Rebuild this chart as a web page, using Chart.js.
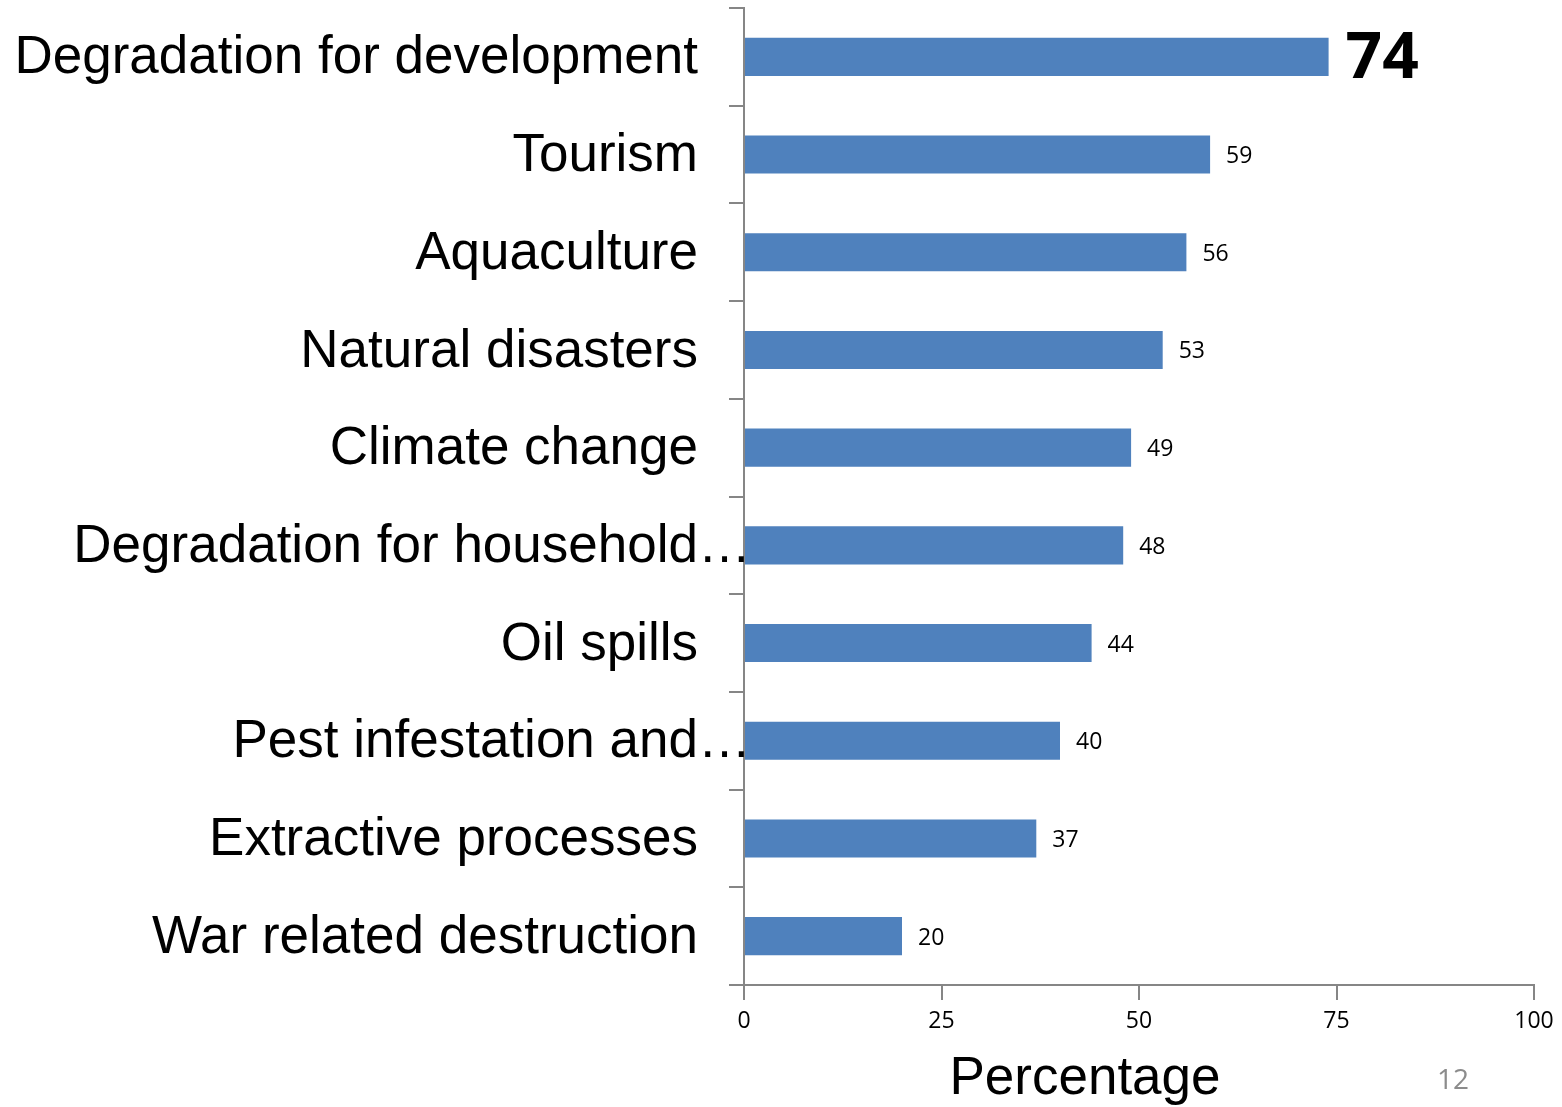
<!DOCTYPE html>
<html>
<head>
<meta charset="utf-8">
<script src="https://cdn.jsdelivr.net/npm/chart.js@4/dist/chart.umd.min.js"></script>
<style>
    html, body { margin: 0; padding: 0; background: #fff; }
    #wrap { position: relative; width: 1562px; height: 1107px; }
</style>
</head>
<body>
<div id="wrap"><canvas id="threatChart" width="1562" height="1107"></canvas></div>
<script>
// Threats ranked by share of respondents
const categories = [
    'Degradation for development',
    'Tourism',
    'Aquaculture',
    'Natural disasters',
    'Climate change',
    'Degradation for household\u2026',
    'Oil spills',
    'Pest infestation and\u2026',
    'Extractive processes',
    'War related destruction'
];
const percentages = [74, 59, 56, 53, 49, 48, 44, 40, 37, 20];
const xTicks = [0, 25, 50, 75, 100];

const ELLIPSIS = '\u2026';
const axisGrey = '#868686';
const labelFont = "'Liberation Sans', Arial, sans-serif";
const numberFont = "'Open Sans', sans-serif";

// Draws the value next to each bar, the top one large and bold
const valueLabels = {
    id: 'valueLabels',
    afterDatasetsDraw(chart) {
        const ctx = chart.ctx;
        const meta = chart.getDatasetMeta(0);
        ctx.save();
        ctx.fillStyle = '#000';
        ctx.textBaseline = 'middle';
        ctx.textAlign = 'left';
        meta.data.forEach((bar, i) => {
            if (i === 0) {
                ctx.font = 'bold 64px ' + numberFont;
                ctx.fillText(String(percentages[i]), bar.x + 17, bar.y + 3);
            } else {
                ctx.font = '23px ' + numberFont;
                ctx.fillText(String(percentages[i]), bar.x + 16, bar.y + 2);
            }
        });
        ctx.restore();
    }
};

// Truncated category names: the ellipsis runs past the label column
const labelEllipsis = {
    id: 'labelEllipsis',
    afterDraw(chart) {
        const y = chart.scales.y;
        const ctx = chart.ctx;
        const x = y.right - y.options.grid.tickLength - y.options.ticks.padding;
        ctx.save();
        ctx.font = '53px ' + labelFont;
        ctx.fillStyle = '#000';
        ctx.textAlign = 'left';
        ctx.textBaseline = 'middle';
        categories.forEach((c, i) => {
            if (c.endsWith(ELLIPSIS)) {
                ctx.fillText(ELLIPSIS, x, y.getPixelForTick(i) + 2);
            }
        });
        ctx.restore();
    }
};

// Axis caption and page number
const captions = {
    id: 'captions',
    afterDraw(chart) {
        const ctx = chart.ctx;
        const area = chart.chartArea;
        ctx.save();
        ctx.textAlign = 'center';
        ctx.textBaseline = 'middle';
        ctx.fillStyle = '#000';
        ctx.font = '53px ' + labelFont;
        ctx.fillText('Percentage', (area.left + area.right) / 2 - 54, 1079);
        ctx.fillStyle = '#8c8c8c';
        ctx.font = '28px ' + numberFont;
        ctx.fillText('12', 1453, 1081);
        ctx.restore();
    }
};

const ctx = document.getElementById('threatChart').getContext('2d');
new Chart(ctx, {
    type: 'bar',
    data: {
        labels: categories,
        datasets: [{
            data: percentages,
            backgroundColor: '#4f81bd',
            borderWidth: 0,
            barPercentage: 0.39,
            categoryPercentage: 1
        }]
    },
    options: {
        indexAxis: 'y',
        responsive: false,
        animation: false,
        layout: { padding: { top: 8, right: 28, left: 0, bottom: 0 } },
        plugins: {
            legend: { display: false },
            tooltip: { enabled: false }
        },
        scales: {
            x: {
                min: 0,
                max: 100,
                afterBuildTicks: (scale) => {
                    scale.ticks = xTicks.map(v => ({ value: v }));
                },
                afterFit: (scale) => { scale.height = 122; },
                border: { color: axisGrey, width: 2 },
                grid: { drawOnChartArea: false, color: axisGrey, lineWidth: 2, tickLength: 15 },
                ticks: {
                    color: '#000',
                    padding: 8,
                    maxRotation: 0,
                    font: { family: numberFont, size: 23 }
                }
            },
            y: {
                afterFit: (scale) => {
                    scale.width = 744;
                    scale.paddingTop = 0;
                    scale.paddingBottom = 0;
                },
                border: { color: axisGrey, width: 2 },
                grid: { drawOnChartArea: false, color: axisGrey, lineWidth: 2, tickLength: 15, offset: true },
                ticks: {
                    color: '#000',
                    padding: 31,
                    autoSkip: false,
                    labelOffset: 2,
                    font: { family: labelFont, size: 53 },
                    callback: function (value) {
                        const label = this.getLabelForValue(value);
                        return label.endsWith(ELLIPSIS) ? label.slice(0, -1) : label;
                    }
                }
            }
        }
    },
    plugins: [valueLabels, labelEllipsis, captions]
});
</script>
</body>
</html>
